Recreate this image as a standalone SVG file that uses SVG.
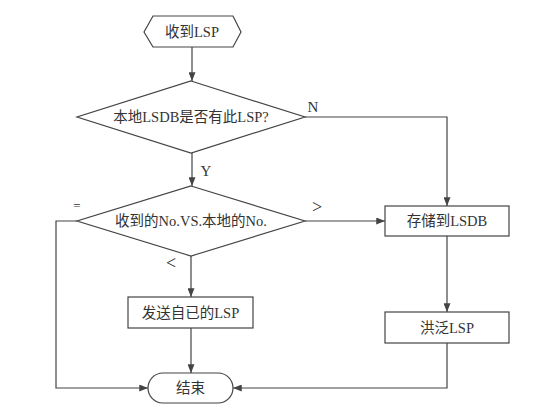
<svg xmlns="http://www.w3.org/2000/svg" width="534" height="413" viewBox="0 0 534 413">
<style>
.s{fill:#fff;stroke:#444;stroke-width:1.2}
.c{fill:none;stroke:#444;stroke-width:1.2}
.t{font-family:"Liberation Serif","Noto Sans CJK SC",serif;font-size:14.5px;fill:#333;text-anchor:middle;dominant-baseline:central}
.l{font-family:"Liberation Serif","Noto Sans CJK SC",serif;font-size:15px;fill:#333;text-anchor:middle;dominant-baseline:central}
.g{font-family:"Liberation Serif","Noto Sans CJK SC",serif;font-size:18px;fill:#333;text-anchor:middle;dominant-baseline:central}
</style>
<defs>
<marker id="a" viewBox="0 0 10 8" refX="10" refY="4" markerWidth="9" markerHeight="7" markerUnits="userSpaceOnUse" orient="auto">
<path d="M0,0 L10,4 L0,8 Z" fill="#444"/>
</marker>
</defs>
<rect width="534" height="413" fill="#fff"/>
<g id="connectors">
<path class="c" d="M192,47 V81" marker-end="url(#a)"/>
<path class="c" d="M305,117 H447 V206" marker-end="url(#a)"/>
<path class="c" d="M192,153 V186" marker-end="url(#a)"/>
<path class="c" d="M305,221 H385" marker-end="url(#a)"/>
<path class="c" d="M77,221 H56 V388 H148" marker-end="url(#a)"/>
<path class="c" d="M191,256 V297" marker-end="url(#a)"/>
<path class="c" d="M191,328 V373" marker-end="url(#a)"/>
<path class="c" d="M447,236 V312" marker-end="url(#a)"/>
<path class="c" d="M447,343 V388 H233" marker-end="url(#a)"/>
<text class="l" x="313" y="107">N</text>
<text class="l" x="206" y="171">Y</text>
<text class="l" x="77" y="205" style="font-size:13px">=</text>
<text class="g" x="317" y="207">&gt;</text>
<text class="g" x="171" y="263">&lt;</text>
</g>
<g id="start">
<polygon class="s" points="144,32 153,16 233,16 241,32 233,47 153,47"/>
<text class="t" x="192" y="32">收到LSP</text>
</g>
<g id="check">
<polygon class="s" points="191,81 305,117 191,153 77,117"/>
<text class="t" x="191" y="117">本地LSDB是否有此LSP?</text>
</g>
<g id="compare">
<polygon class="s" points="191,186 305,221 191,256 77,221"/>
<text class="t" x="191" y="221">收到的No.VS.本地的No.</text>
</g>
<g id="send">
<rect class="s" x="128" y="297" width="125" height="31"/>
<text class="t" x="190.5" y="312.5">发送自已的LSP</text>
</g>
<g id="store">
<rect class="s" x="385" y="206" width="124" height="30"/>
<text class="t" x="447" y="221">存储到LSDB</text>
</g>
<g id="flood">
<rect class="s" x="385" y="312" width="124" height="31"/>
<text class="t" x="447" y="327.5">洪泛LSP</text>
</g>
<g id="end">
<rect class="s" x="148" y="373" width="85" height="30" rx="15" ry="15"/>
<text class="t" x="190.5" y="388">结束</text>
</g>
</svg>
